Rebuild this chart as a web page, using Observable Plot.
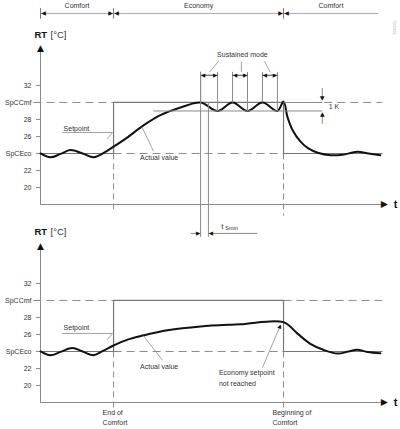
<!DOCTYPE html>
<html><head><meta charset="utf-8">
<script src="https://cdn.jsdelivr.net/npm/d3@7"></script>
<script src="https://cdn.jsdelivr.net/npm/@observablehq/plot@0.6"></script>
<style>
body{margin:0;background:#fff;}
#wrap{position:relative;width:400px;height:429px;overflow:hidden;}
#wrap svg{position:absolute;left:0;top:0;}
</style></head><body><div id="wrap"></div>
<script>
// ---- data ----
const yTicks = [20, 22, 24, 26, 28, 30, 32];
const yTickLabels = ["20", "22", "SpCEco", "26", "28", "SpCCmf", "32"];
const phaseNames = ["Comfort", "Economy", "Comfort"];
const phaseStart = [-0.15, 2, 7];
const phaseEnd = [2, 7, 9.79];
const spEco = 24, spCmf = 30;
const setT = [-0.15, 2, 2, 7, 7, 9.9];
const setV = [24, 24, 30, 30, 24, 24];
const actTopT = [-0.15, 0.144, 0.44, 0.73, 1.09, 1.41, 1.70, 2.0, 2.41, 2.88, 3.38, 3.97, 4.56, 5.06, 5.50, 5.94, 6.38, 6.82, 7.0, 7.115, 7.26, 7.50, 7.73, 8.03, 8.38, 8.73, 9.17, 9.50, 9.85];
const actTopV = [24.0, 23.55, 23.95, 24.4, 24.0, 23.55, 24.05, 24.8, 25.9, 27.3, 28.5, 29.4, 30.0, 29.0, 30.0, 29.0, 30.0, 29.0, 30.1, 28.3, 26.8, 25.4, 24.6, 24.05, 23.8, 23.85, 24.2, 24.0, 23.8];
const actBotT = [-0.15, 0.144, 0.44, 0.79, 1.09, 1.41, 1.70, 2.0, 2.41, 2.88, 3.585, 4.56, 5.73, 7.0, 7.41, 7.79, 8.17, 8.59, 8.91, 9.17, 9.47, 9.85];
const actBotV = [24.0, 23.55, 23.95, 24.4, 24.0, 23.55, 24.1, 24.7, 25.4, 25.9, 26.5, 26.95, 27.2, 27.45, 26.1, 24.9, 24.2, 23.75, 24.0, 24.2, 23.95, 23.8];
const sustPeakT = [4.56, 5.50, 6.38];
const sustTroughT = [5.06, 5.94, 6.82];
const bandLow = 29, bandHigh = 30; // 1 K
const eventT = [2, 7];
const eventLine1 = ["End of", "Beginning of"];
const eventLine2 = ["Comfort", "Comfort"];

// ---- helpers ----
const FONT = "Liberation Sans, Arial, Helvetica, sans-serif";
const GL = "DejaVu Sans, sans-serif";
const TXT = "#333", GRAY = "#8a8a8a", SET = "#777", BLACK = "#111";
const tickMap = new Map(yTicks.map((d, i) => [d, yTickLabels[i]]));
const pts = (T, V) => T.map((t, i) => ({t, v: V[i]}));
const seg = (x1, y1, x2, y2) => ({x1, y1, x2, y2});

function panelMarks(act, o) {
  return [
    // dashed reference levels
    Plot.link(o.dashed, {x1: "x1", y1: "y1", x2: "x2", y2: "y2", stroke: GRAY, strokeWidth: 1, strokeDasharray: "8,5"}),
    Plot.link(eventT.map((t, i) => seg(t, spEco, t, o.evBottom[i])), {x1: "x1", y1: "y1", x2: "x2", y2: "y2", stroke: GRAY, strokeDasharray: "6,4"}),
    // axes
    Plot.axisY({ticks: yTicks, tickFormat: d => tickMap.get(d), tickSize: 4, tickPadding: 5, fontSize: 7, stroke: GRAY, fill: TXT, label: null}),
    Plot.link([seg(-0.15, 18, -0.15, 36.2)], {x1: "x1", y1: "y1", x2: "x2", y2: "y2", stroke: GRAY}),
    Plot.link([seg(-0.15, 18, 9.92, 18)], {x1: "x1", y1: "y1", x2: "x2", y2: "y2", stroke: GRAY}),
    Plot.text([{t: -0.15, v: 36.45}], {x: "t", y: "v", text: () => "▲", fontSize: 9, fontFamily: GL, fill: BLACK}),
    Plot.text([{t: 9.98, v: 18}], {x: "t", y: "v", text: () => "▲", rotate: 90, fontSize: 9, fontFamily: GL, fill: BLACK}),
    Plot.text([{t: 10.3, v: 18}], {x: "t", y: "v", text: () => "t", fontSize: 11, fontWeight: "bold", fill: BLACK}),
    Plot.text([{t: -0.15, v: o.rtV}], {x: "t", y: "v", text: () => "RT", dx: -6, textAnchor: "start", fontSize: 9.5, fontWeight: "bold", fill: BLACK}),
    Plot.text([{t: -0.15, v: o.rtV}], {x: "t", y: "v", text: () => "[°C]", dx: 10, textAnchor: "start", fontSize: 9.5, fill: TXT}),
    // setpoint
    Plot.line(pts(setT, setV), {x: "t", y: "v", stroke: SET, strokeWidth: 1.2}),
    // actual value
    Plot.line(act, {x: "t", y: "v", stroke: BLACK, strokeWidth: 2, curve: "catmull-rom"}),
    // labels
    Plot.text([{t: 0.53, v: o.spText}], {x: "t", y: "v", text: () => "Setpoint", textAnchor: "start", fontSize: 7, fill: TXT}),
    Plot.line([{t: 0.5, v: o.spLine}, {t: 1.97, v: o.spLine}, {t: 1.82, v: o.spLine - 0.7}], {x: "t", y: "v", stroke: GRAY, strokeWidth: 0.8}),
    Plot.text([{t: o.avText[0], v: o.avText[1]}], {x: "t", y: "v", text: () => "Actual value", textAnchor: "start", fontSize: 7, fill: TXT}),
    Plot.link([o.avLeader], {x1: "x1", y1: "y1", x2: "x2", y2: "y2", stroke: GRAY, strokeWidth: 0.8})
  ];
}

function makePlot(marks, mt, mb) {
  return Plot.plot({
    width: 400, height: 429,
    marginLeft: 40, marginRight: 15, marginTop: mt, marginBottom: mb,
    x: {domain: [-0.15, 10], axis: null},
    y: {domain: [18, 36.7], axis: null},
    style: {background: "transparent", fontFamily: FONT, color: TXT, overflow: "visible"},
    marks
  });
}

// ---- top panel ----
const topMarks = panelMarks(pts(actTopT, actTopV), {
  dashed: [seg(-0.36, spCmf, 2, spCmf), seg(8.2, spCmf, 9.9, spCmf), seg(2, spEco, 7, spEco)],
  evBottom: [17.3, 16.7],
  rtV: 37.9,
  spText: 26.95, spLine: 26.47,
  avText: [2.78, 23.5],
  avLeader: seg(3.17, 24.3, 2.83, 27.15)
}).concat([
  // 1 K band
  Plot.link([seg(3.17, bandLow, 8.14, bandLow), seg(7, bandHigh, 8.14, bandHigh)], {x1: "x1", y1: "y1", x2: "x2", y2: "y2", stroke: GRAY}),
  Plot.link([seg(8.14, 31.7, 8.14, 30.4), seg(8.14, 27.5, 8.14, 28.6)], {x1: "x1", y1: "y1", x2: "x2", y2: "y2", stroke: GRAY}),
  Plot.text([{t: 8.14, v: 30.4, r: 180}, {t: 8.14, v: 28.6, r: 0}], {x: "t", y: "v", rotate: "r", text: () => "▲", fontSize: 6, fontFamily: GL, fill: BLACK}),
  Plot.text([{t: 8.33, v: 29.5}], {x: "t", y: "v", text: () => "1 K", textAnchor: "start", fontSize: 7, fill: TXT}),
  // sustained mode boxes
  Plot.link(sustPeakT.map(t => seg(t, 33.6, t, bandHigh)), {x1: "x1", y1: "y1", x2: "x2", y2: "y2", stroke: GRAY}),
  Plot.link(sustTroughT.map(t => seg(t, 33.6, t, bandLow)), {x1: "x1", y1: "y1", x2: "x2", y2: "y2", stroke: GRAY}),
  Plot.link(sustPeakT.map((t, i) => seg(t, 33.2, sustTroughT[i], 33.2)), {x1: "x1", y1: "y1", x2: "x2", y2: "y2", stroke: BLACK, strokeWidth: 0.8}),
  Plot.text(sustPeakT.map(t => ({t, v: 33.2})), {x: "t", y: "v", text: () => "◀", dx: 2.5, fontSize: 5.5, fontFamily: GL, fill: BLACK}),
  Plot.text(sustTroughT.map(t => ({t, v: 33.2})), {x: "t", y: "v", text: () => "▶", dx: -2.5, fontSize: 5.5, fontFamily: GL, fill: BLACK}),
  Plot.text([{t: 5.79, v: 35.65}], {x: "t", y: "v", text: () => "Sustained mode", fontSize: 7, fill: TXT}),
  Plot.link([seg(5.09, 34.85, 4.82, 33.55), seg(5.76, 34.85, 5.76, 33.55), seg(6.44, 34.85, 6.61, 33.55)], {x1: "x1", y1: "y1", x2: "x2", y2: "y2", stroke: GRAY, strokeWidth: 0.8}),
  // t_Smin
  Plot.link([seg(4.56, 33.6, 4.56, 14.2), seg(4.79, bandHigh, 4.79, 14.2)], {x1: "x1", y1: "y1", x2: "x2", y2: "y2", stroke: GRAY}),
  Plot.link([seg(4.26, 14.6, 4.56, 14.6), seg(4.79, 14.6, 6.23, 14.6)], {x1: "x1", y1: "y1", x2: "x2", y2: "y2", stroke: GRAY}),
  Plot.text([{t: 4.56, v: 14.6}], {x: "t", y: "v", text: () => "▶", dx: -2.5, fontSize: 5.5, fontFamily: GL, fill: BLACK}),
  Plot.text([{t: 4.79, v: 14.6}], {x: "t", y: "v", text: () => "◀", dx: 2.5, fontSize: 5.5, fontFamily: GL, fill: BLACK}),
  Plot.text([{t: 5.17, v: 15.45}], {x: "t", y: "v", text: () => "t", textAnchor: "start", fontSize: 8, fill: TXT}),
  Plot.text([{t: 5.17, v: 15.15}], {x: "t", y: "v", text: () => "Smin", dx: 4, textAnchor: "start", fontSize: 5.5, fill: TXT}),
  // header phases
  Plot.link([seg(-0.15, 40.47, 9.79, 40.47)], {x1: "x1", y1: "y1", x2: "x2", y2: "y2", stroke: "#aaa"}),
  Plot.link(phaseStart.map(t => seg(t, 39.85, t, 41.1)), {x1: "x1", y1: "y1", x2: "x2", y2: "y2", stroke: "#777"}),
  Plot.text(phaseStart.map(t => ({t, v: 40.47})), {x: "t", y: "v", text: () => "◀", dx: 3, fontSize: 6, fontFamily: GL, fill: BLACK}),
  Plot.text(phaseEnd.slice(0, 2).map(t => ({t, v: 40.47})), {x: "t", y: "v", text: () => "▶", dx: -3, fontSize: 6, fontFamily: GL, fill: BLACK}),
  Plot.text(phaseNames.map((n, i) => ({n, t: (phaseStart[i] + phaseEnd[i]) / 2, v: 41.3})), {x: "t", y: "v", text: "n", dy: -1, fontSize: 7, fill: TXT}),
  Plot.text([{t: 10.29, v: 38.8}], {x: "t", y: "v", text: () => "2045D05", rotate: -90, fontSize: 3.5, fill: "#aaa"})
]);

// ---- bottom panel ----
const botMarks = panelMarks(pts(actBotT, actBotV), {
  dashed: [seg(-0.36, spCmf, 2, spCmf), seg(7, spCmf, 9.9, spCmf), seg(2, spEco, 7, spEco)],
  evBottom: [17.4, 17.4],
  rtV: 38.1,
  spText: 26.8, spLine: 26.12,
  avText: [2.78, 22.24],
  avLeader: seg(3.44, 22.95, 2.88, 25.85)
}).concat([
  Plot.link([seg(6.38, 22.1, 6.9, 27.0)], {x1: "x1", y1: "y1", x2: "x2", y2: "y2", stroke: GRAY, strokeWidth: 0.8}),
  Plot.text([{t: 6.9, v: 27.0}], {x: "t", y: "v", text: () => "▲", rotate: 20, fontSize: 5.5, fontFamily: GL, fill: BLACK}),
  Plot.text([{t: 5.1, v: 21.55}], {x: "t", y: "v", text: () => "Economy setpoint", textAnchor: "start", fontSize: 7, fill: TXT}),
  Plot.text([{t: 5.1, v: 20.25}], {x: "t", y: "v", text: () => "not reached", textAnchor: "start", fontSize: 7, fill: TXT}),
  Plot.text(eventT.map((t, i) => ({t, s: eventLine1[i]})), {x: "t", y: () => 16.8, text: "s", dx: -11, textAnchor: "start", fontSize: 7, fill: TXT}),
  Plot.text(eventT.map((t, i) => ({t, s: eventLine2[i]})), {x: "t", y: () => 15.6, text: "s", dx: -11, textAnchor: "start", fontSize: 7, fill: TXT})
]);

const wrap = document.getElementById("wrap");
wrap.appendChild(makePlot(topMarks, 45, 225));
wrap.appendChild(makePlot(botMarks, 243, 27));
</script></body></html>
